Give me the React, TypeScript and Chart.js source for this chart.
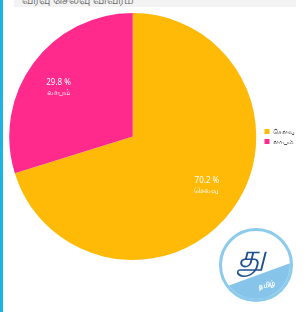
import React, { useEffect, useRef } from "react";
import { Chart, registerables } from "chart.js";

Chart.register(...registerables);

const categories = ["செலவு", "லாபம்"];
const values = [70.2, 29.8];
const percentLabels = ["70.2 %", "29.8 %"];
const sliceColors = ["#FFBA08", "#FF2A8C"];
const titleText = "வரவு செலவு விவரம்";

const fontFamily = "'Noto Sans', 'DejaVu Sans', sans-serif";

const sliceLabelPlugin = {
  id: "sliceLabels",
  afterDatasetsDraw(chart: any) {
    const ctx = chart.ctx;
    const meta = chart.getDatasetMeta(0);
    ctx.save();
    ctx.fillStyle = "#ffffff";
    ctx.textAlign = "center";
    ctx.textBaseline = "middle";
    ctx.font = `8px ${fontFamily}`;
    meta.data.forEach((arc: any, i: number) => {
      const p = arc.getProps(["x", "y", "startAngle", "endAngle", "outerRadius"], true);
      const mid = (p.startAngle + p.endAngle) / 2 - 0.05;
      const r = p.outerRadius * 0.72;
      const x = p.x + Math.cos(mid) * r;
      const y = p.y + Math.sin(mid) * r;
      ctx.fillText(percentLabels[i], x, y - 5);
      ctx.fillText(categories[i], x, y + 5);
    });
    ctx.restore();
  },
};

function Logo() {
  return (
    <div
      style={{
        position: "absolute",
        left: 219,
        top: 228,
        width: 74,
        height: 74,
        borderRadius: "50%",
        border: "3px solid #8ccbec",
        boxSizing: "border-box",
        background: "#ffffff",
        overflow: "hidden",
      }}
    >
      <div
        style={{
          position: "absolute",
          left: 0,
          top: 57,
          width: 110,
          height: 40,
          background: "#86c4ea",
          transform: "rotate(-20deg)",
          transformOrigin: "0 0",
        }}
      />
      <div
        style={{
          position: "absolute",
          left: 16,
          top: 4,
          fontFamily: "'Noto Sans', 'DejaVu Sans', sans-serif",
          fontSize: 32,
          fontStyle: "italic",
          color: "#1f4f8f",
          lineHeight: "40px",
        }}
      >
        து
      </div>
      <div
        style={{
          position: "absolute",
          left: 36,
          top: 49,
          fontFamily: "'Noto Sans', 'DejaVu Sans', sans-serif",
          fontSize: 7,
          color: "#ffffff",
          fontWeight: 700,
          transform: "rotate(-12deg)",
        }}
      >
        தமிழ்
      </div>
    </div>
  );
}

export default function App() {
  const canvasRef = useRef<HTMLCanvasElement | null>(null);

  useEffect(() => {
    if (!canvasRef.current) return;
    const chart = new Chart(canvasRef.current, {
      type: "pie",
      data: {
        labels: categories,
        datasets: [
          {
            data: values,
            backgroundColor: sliceColors,
            borderWidth: 0,
          },
        ],
      },
      options: {
        animation: false,
        responsive: false,
        maintainAspectRatio: false,
        devicePixelRatio: 1,
        layout: { padding: { top: 13, bottom: 13, left: 0, right: 0 } },
        plugins: {
          tooltip: { enabled: false },
          legend: {
            position: "right",
            labels: {
              boxWidth: 5,
              boxHeight: 5,
              padding: 3,
              color: "#555555",
              font: { size: 7, family: fontFamily },
            },
          },
        },
      },
      plugins: [sliceLabelPlugin],
    });
    return () => chart.destroy();
  }, []);

  return (
    <div
      style={{
        position: "fixed",
        left: 0,
        top: 0,
        width: 306,
        height: 312,
        overflow: "hidden",
        background: "#ffffff",
      }}
    >
      <div
        style={{
          position: "absolute",
          left: 0,
          top: 0,
          width: 3,
          height: 312,
          background: "#1db3e3",
        }}
      />
      <div
        style={{
          position: "absolute",
          left: 14,
          top: 0,
          width: 282,
          height: 7,
          background: "#f3f3f3",
          overflow: "hidden",
        }}
      >
        <div
          style={{
            position: "absolute",
            left: 8,
            top: -9,
            fontFamily: fontFamily,
            fontSize: 12,
            color: "#666666",
            whiteSpace: "nowrap",
          }}
        >
          {titleText}
        </div>
      </div>
      <canvas
        ref={canvasRef}
        width={301}
        height={273}
        style={{ position: "absolute", left: 4, top: 0, width: 301, height: 273 }}
      />
      <Logo />
    </div>
  );
}
